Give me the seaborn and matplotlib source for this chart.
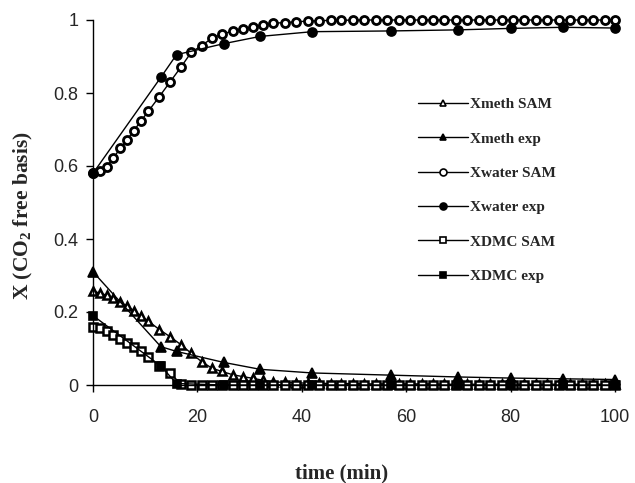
import matplotlib
matplotlib.use('Agg')
import matplotlib.pyplot as plt
import seaborn as sns

# simulation (SAM) time grid and curves
t_sam = [0, 1.3, 2.6, 3.9, 5.2, 6.5, 7.8, 9.1, 10.6, 12.7,
         14.8, 16.9, 18.8, 20.8, 22.8, 24.7, 26.8, 28.7, 30.7, 32.6,
         34.5, 36.7, 38.9, 41.1, 43.3, 45.5, 47.6, 49.8, 52.0, 54.2,
         56.4, 58.6, 60.8, 63.0, 65.1, 67.3, 69.5, 71.7, 73.9, 76.1,
         78.3, 80.5, 82.6, 84.8, 87.0, 89.2, 91.4, 93.6, 95.8, 98.0, 100]
water_sam = [0.58, 0.586, 0.598, 0.622, 0.648, 0.672, 0.696, 0.722, 0.75, 0.79,
             0.831, 0.872, 0.911, 0.93, 0.95, 0.961, 0.97, 0.975, 0.982, 0.986,
             0.991, 0.993, 0.995, 0.997, 0.998, 0.999, 0.999, 1.0, 1.0, 1.0,
             1.0, 1.0, 1.0, 1.0, 1.0, 1.0, 1.0, 1.0, 1.0, 1.0,
             1.0, 1.0, 1.0, 1.0, 1.0, 1.0, 1.0, 1.0, 1.0, 1.0, 1.0]
meth_sam = [0.257, 0.252, 0.246, 0.237, 0.227, 0.217, 0.204, 0.19, 0.175, 0.152,
            0.132, 0.11, 0.087, 0.064, 0.046, 0.037, 0.028, 0.023, 0.018, 0.013,
            0.009, 0.007, 0.006, 0.005, 0.005, 0.004, 0.004, 0.004, 0.003, 0.003,
            0.003, 0.003, 0.003, 0.003, 0.003, 0.002, 0.002, 0.002, 0.002, 0.002,
            0.002, 0.002, 0.002, 0.002, 0.002, 0.002, 0.002, 0.002, 0.002, 0.002, 0.002]
dmc_sam = [0.159, 0.156, 0.149, 0.138, 0.126, 0.116, 0.104, 0.092, 0.076, 0.053,
           0.032, 0.002, 0, 0, 0, 0, 0, 0, 0, 0,
           0, 0, 0, 0, 0, 0, 0, 0, 0, 0,
           0, 0, 0, 0, 0, 0, 0, 0, 0, 0,
           0, 0, 0, 0, 0, 0, 0, 0, 0, 0, 0]

# experimental points
t_exp = [0, 13, 16, 25, 32, 42, 57, 70, 80, 90, 100]
water_exp = [0.58, 0.843, 0.905, 0.935, 0.955, 0.968, 0.97, 0.973, 0.977, 0.98, 0.978]
meth_exp = [0.31, 0.105, 0.092, 0.062, 0.043, 0.033, 0.027, 0.022, 0.019, 0.017, 0.015]
dmc_exp = [0.19, 0.052, 0.004, 0, 0, 0, 0, 0, 0, 0, 0]

sns.set_style('ticks')
plt.rcParams['font.family'] = ['Liberation Sans', 'DejaVu Sans']
plt.rcParams['mathtext.fontset'] = 'custom'
plt.rcParams['mathtext.rm'] = 'Liberation Serif:bold'
plt.rcParams['mathtext.it'] = 'Liberation Serif:bold'
plt.rcParams['mathtext.bf'] = 'Liberation Serif:bold'

fig = plt.figure(figsize=(6.35, 4.83), dpi=100)
ax = fig.add_axes([93 / 635, 98 / 483, 522 / 635, 365 / 483])

# label, x, y, marker, face colour, marker size, edge width
series = [
    ('Xmeth SAM', t_sam, meth_sam, '^', 'white', 6, 1.8),
    ('Xmeth exp', t_exp, meth_exp, '^', 'black', 7.5, 1.2),
    ('Xwater SAM', t_sam, water_sam, 'o', 'white', 5.8, 2.0),
    ('Xwater exp', t_exp, water_exp, 'o', 'black', 6.5, 1.2),
    ('XDMC SAM', t_sam, dmc_sam, 's', 'white', 5.3, 1.8),
    ('XDMC exp', t_exp, dmc_exp, 's', 'black', 6, 1.2),
]

for label, t, y, m, fc, ms, mew in series:
    sns.lineplot(x=t, y=y, ax=ax, color='black', lw=1, marker=m, markersize=ms,
                 markerfacecolor=fc, markeredgecolor='black', markeredgewidth=mew,
                 clip_on=False, label=label, legend=False)

ax.set_xlim(0, 100)
ax.set_ylim(0, 1)
ax.set_xticks([0, 20, 40, 60, 80, 100])
ax.set_yticks([0, 0.2, 0.4, 0.6, 0.8, 1.0])
ax.set_yticklabels(['0', '0.2', '0.4', '0.6', '0.8', '1'])
ax.tick_params(direction='out', length=5, width=1, labelsize=13, color='black')
ax.tick_params(axis='x', pad=12)
ax.tick_params(axis='y', pad=5.5)
for s in ['top', 'right']:
    ax.spines[s].set_visible(False)
for s in ['left', 'bottom']:
    ax.spines[s].set_linewidth(1)
    ax.spines[s].set_color('black')

ax.set_xlabel('time (min)', family='Liberation Serif', fontweight='bold', fontsize=15)
ax.set_ylabel('X (CO$_{2}$ free basis)', family='Liberation Serif', fontweight='bold', fontsize=15.5)
ax.xaxis.set_label_coords(0.477, -0.215)
ax.yaxis.set_label_coords(-0.112, 0.463)

handles, labels = ax.get_legend_handles_labels()
leg = ax.legend(handles, labels, loc='upper left', bbox_to_anchor=(410 / 635, 1 - 90 / 483),
                bbox_transform=fig.transFigure, frameon=False, borderpad=0,
                handlelength=3.3, handletextpad=0.15, labelspacing=1.35,
                prop={'family': 'Liberation Serif', 'weight': 'bold', 'size': 11})
for ln in leg.get_lines():
    ln.set_markersize(5)
    ln.set_markeredgewidth(1.2)

fig.savefig('out.png', dpi=100)
